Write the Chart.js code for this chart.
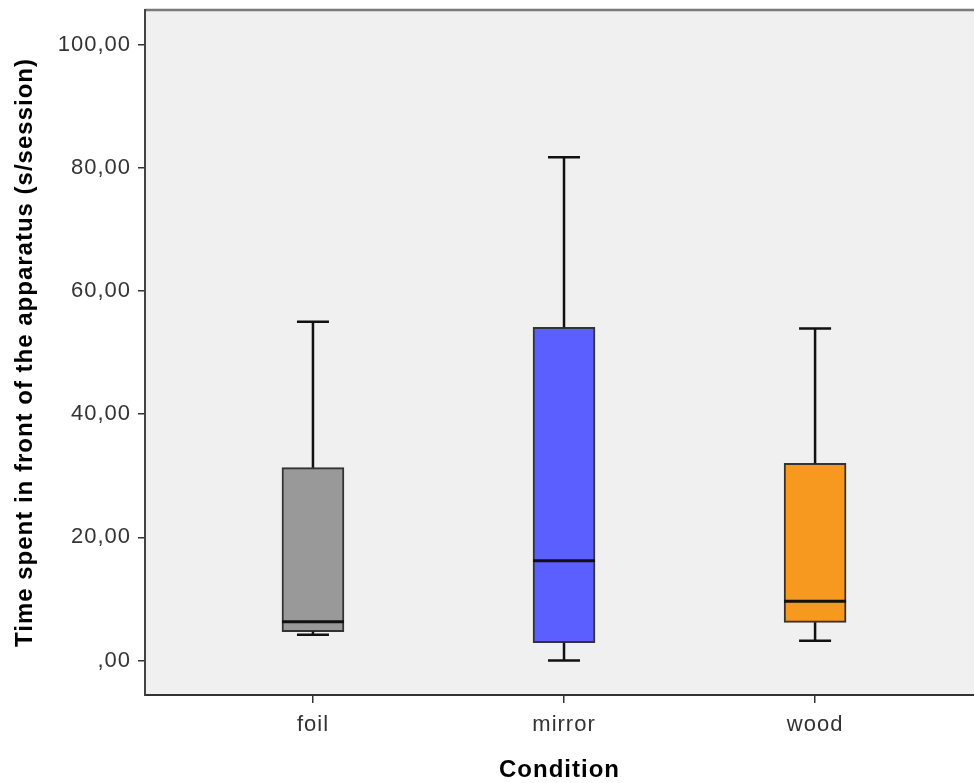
<!DOCTYPE html>
<html>
<head>
<meta charset="utf-8">
<script src="https://cdn.jsdelivr.net/npm/chart.js@4/dist/chart.umd.min.js"></script>
<style>
  html, body { margin: 0; padding: 0; background: #ffffff; }
  #wrap { width: 974px; height: 783px; }
</style>
</head>
<body>
<div id="wrap"><canvas id="c" width="974" height="783"></canvas></div>
<script>
// ---- data ----
const categories = ['foil', 'mirror', 'wood'];
const whiskerLow  = [4.2, 0.0, 3.2];
const quartile1   = [4.7, 2.9, 6.2];
const medians     = [6.3, 16.2, 9.6];
const quartile3   = [31.3, 54.1, 32.0];
const whiskerHigh = [55.0, 81.7, 53.9];
const yTickValues = [0, 20, 40, 60, 80, 100];
const xTickValues = [1, 2, 3];

// ---- styles ----
const boxColors = ['#999999', '#5b5fff', '#f7991f'];
const FONT = '"Liberation Sans", Arial, sans-serif';
const LETTER_SPACING = '1px';

function fmt(v) {
  let s = Number(v).toFixed(2).replace('.', ',');
  if (s.startsWith('0,')) s = s.slice(1);
  return s;
}

const spacingPlugin = {
  id: 'spacing',
  beforeUpdate(chart) { chart.ctx.letterSpacing = LETTER_SPACING; },
  beforeDraw(chart) {
    chart.ctx.letterSpacing = LETTER_SPACING;
    const {ctx, chartArea: a} = chart;
    ctx.save();
    ctx.fillStyle = '#f0f0f0';
    ctx.fillRect(a.left, a.top, a.right - a.left, a.bottom - a.top);
    ctx.strokeStyle = '#7a7a7a';
    ctx.lineWidth = 2.5;
    ctx.beginPath();
    ctx.moveTo(a.left, a.top);
    ctx.lineTo(a.right, a.top);
    ctx.stroke();
    ctx.restore();
  }
};

const boxPlugin = {
  id: 'boxparts',
  afterDatasetsDraw(chart) {
    const {ctx} = chart;
    const xs = chart.scales.x, ys = chart.scales.y;
    const boxW = 62, capW = 32;
    ctx.save();
    ctx.strokeStyle = '#111111';
    ctx.lineCap = 'butt';
    categories.forEach((c, i) => {
      const x = xs.getPixelForValue(xTickValues[i]);
      const yLo = ys.getPixelForValue(whiskerLow[i]);
      const yQ1 = ys.getPixelForValue(quartile1[i]);
      const yQ3 = ys.getPixelForValue(quartile3[i]);
      const yHi = ys.getPixelForValue(whiskerHigh[i]);
      const yMed = ys.getPixelForValue(medians[i]);
      ctx.lineWidth = 2.5;
      ctx.beginPath();
      ctx.moveTo(x, yQ3); ctx.lineTo(x, yHi);
      ctx.moveTo(x - capW / 2, yHi); ctx.lineTo(x + capW / 2, yHi);
      ctx.moveTo(x, yQ1); ctx.lineTo(x, yLo);
      ctx.moveTo(x - capW / 2, yLo); ctx.lineTo(x + capW / 2, yLo);
      ctx.stroke();
      ctx.lineWidth = 3;
      ctx.beginPath();
      ctx.moveTo(x - boxW / 2, yMed); ctx.lineTo(x + boxW / 2, yMed);
      ctx.stroke();
    });
    ctx.restore();
  }
};

function zeroPad(scale) {
  scale.paddingTop = 0; scale.paddingBottom = 0;
  scale.paddingLeft = 0; scale.paddingRight = 0;
}

const boxData = categories.map((c, i) => ({ x: xTickValues[i], y: [quartile1[i], quartile3[i]] }));

new Chart(document.getElementById('c'), {
  type: 'bar',
  data: {
    datasets: [{
      data: boxData,
      backgroundColor: boxColors,
      borderColor: '#333333',
      borderWidth: 2,
      borderSkipped: false,
      barThickness: 62
    }]
  },
  options: {
    responsive: false,
    animation: false,
    devicePixelRatio: 1,
    layout: { padding: { left: 0, top: 10, right: 0, bottom: 0 } },
    plugins: { legend: { display: false }, tooltip: { enabled: false } },
    scales: {
      x: {
        type: 'linear',
        offset: false,
        min: 0.331,
        max: 3.633,
        afterBuildTicks(scale) { scale.ticks = xTickValues.map(v => ({ value: v })); },
        afterFit(scale) { scale.height = 88; zeroPad(scale); },
        grid: { display: true, offset: false, drawOnChartArea: false, drawTicks: true, tickLength: 8, color: '#333333', lineWidth: 1.5 },
        border: { display: true, color: '#333333', width: 2 },
        ticks: {
          autoSkip: false, maxRotation: 0, padding: 9,
          color: '#333333',
          font: { family: FONT, size: 22 },
          callback: (v) => categories[v - 1]
        },
        title: {
          display: true, text: 'Condition', color: '#000000',
          font: { family: FONT, size: 24, weight: 'bold' },
          padding: { top: 0, bottom: -2 }
        }
      },
      y: {
        min: -5.6,
        max: 105.6,
        afterBuildTicks(scale) { scale.ticks = yTickValues.map(v => ({ value: v })); },
        afterFit(scale) { scale.width = 145; zeroPad(scale); },
        grid: { display: true, drawOnChartArea: false, drawTicks: true, tickLength: 7, color: '#333333', lineWidth: 1.5 },
        border: { display: true, color: '#444444', width: 2 },
        ticks: {
          padding: 7,
          color: '#333333',
          font: { family: FONT, size: 22 },
          callback: (v) => fmt(v)
        },
        title: {
          display: true, text: 'Time spent in front of the apparatus (s/session)', color: '#000000',
          font: { family: FONT, size: 24, weight: 'bold' },
          padding: { top: 11, bottom: 0 }
        }
      }
    }
  },
  plugins: [spacingPlugin, boxPlugin]
});
</script>
</body>
</html>
